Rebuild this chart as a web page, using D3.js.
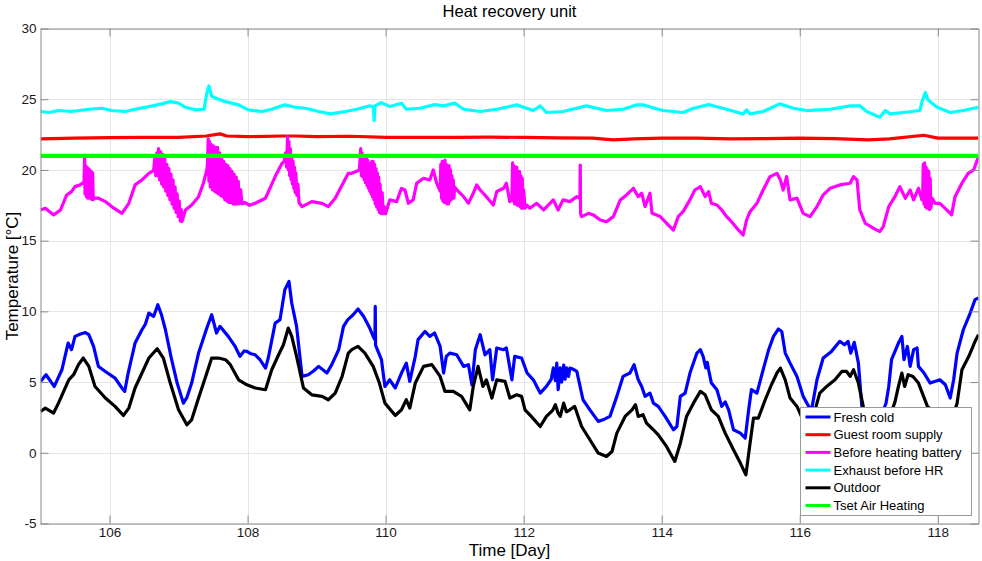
<!DOCTYPE html>
<html>
<head>
<meta charset="utf-8">
<script src="https://cdn.jsdelivr.net/npm/d3@7"></script>
<style>
  html, body { margin: 0; padding: 0; background: #fff; }
  svg { display: block; font-family: "Liberation Sans", Arial, sans-serif; }
</style>
</head>
<body>
<svg id="chart" width="982" height="561"></svg>
<script>
// Heat recovery unit temperatures, time in days, temperature in °C
const title = "Heat recovery unit";
const xLabel = "Time [Day]";
const yLabel = "Temperature [°C]";
const xTicks = [106, 108, 110, 112, 114, 116, 118];
const yTicks = [-5, 0, 5, 10, 15, 20, 25, 30];
const xDomain = [105, 118.59];
const yDomain = [-5, 30];

const seriesNames = ["Fresh cold", "Guest room supply", "Before heating battery",
                     "Exhaust before HR", "Outdoor", "Tset Air Heating"];
const seriesColors = ["#0000ff", "#ff0000", "#ff00ff", "#00ffff", "#000000", "#00ff00"];

const freshCold = [
  [105.00,5.05],[105.08,5.52],[105.20,4.69],[105.31,5.87],[105.40,7.76],[105.45,7.29],[105.50,8.23],
  [105.58,8.4],[105.65,8.5],[105.70,8.35],[105.77,7.5],[105.84,6.1],[105.94,5.75],[106.08,5.28],
  [106.18,4.58],[106.22,4.34],[106.27,5.64],[106.37,7.76],[106.47,8.7],[106.52,9.1],[106.57,9.88],
  [106.64,9.65],[106.70,10.47],[106.75,9.8],[106.81,8.7],[106.90,6.58],[106.98,4.93],[107.07,3.51],
  [107.12,3.9],[107.19,4.93],[107.29,7.05],[107.41,8.82],[107.48,9.76],[107.55,8.47],[107.60,8.94],
  [107.72,8.23],[107.82,7.52],[107.89,6.82],[107.95,7.2],[107.99,7.17],[108.05,7.0],[108.11,6.93],
  [108.18,6.58],[108.26,5.99],[108.30,6.7],[108.40,9.17],[108.47,9.41],[108.54,11.53],[108.60,12.12],
  [108.64,10.59],[108.71,8.94],[108.79,5.4],[108.88,5.52],[108.96,5.8],[109.03,6.11],[109.15,5.64],
  [109.22,6.23],[109.32,7.29],[109.39,8.94],[109.45,9.4],[109.53,9.76],[109.60,10.17],[109.68,9.65],
  [109.77,8.82],[109.82,8.23],[109.845,8.0],[109.85,10.35],[109.855,7.6],[109.94,6.58],[109.99,4.69],
  [110.06,5.16],[110.14,4.58],[110.23,5.64],[110.30,6.34],[110.35,5.05],[110.43,6.82],[110.47,8.0],
  [110.57,8.58],[110.64,8.23],[110.71,8.47],[110.79,7.52],[110.84,5.64],[110.88,6.82],[110.93,7.05],
  [111.03,6.93],[111.13,6.11],[111.20,6.23],[111.25,4.81],[111.30,7.29],[111.37,8.35],[111.44,6.93],
  [111.51,7.29],[111.55,5.16],[111.61,7.41],[111.71,7.29],[111.75,7.41],[111.83,5.16],[111.87,6.82],
  [111.97,6.7],[112.05,5.64],[112.14,5.16],[112.24,4.22],[112.33,4.69],[112.40,5.2],[112.43,6.0],
  [112.46,5.1],[112.48,6.34],[112.50,4.46],[112.53,6.0],[112.55,5.0],[112.58,6.2],[112.60,5.2],
  [112.62,6.0],[112.65,5.4],[112.67,5.99],[112.72,5.9],[112.77,5.75],[112.86,3.75],[112.96,3.04],
  [113.08,2.22],[113.15,2.33],[113.25,2.57],[113.35,3.99],[113.44,5.4],[113.54,5.64],[113.60,6.23],
  [113.66,5.16],[113.71,4.69],[113.76,3.99],[113.83,4.22],[113.88,3.51],[113.95,3.28],[114.05,2.57],
  [114.17,1.63],[114.22,1.86],[114.27,3.99],[114.34,4.22],[114.41,5.64],[114.51,7.05],[114.56,7.29],
  [114.60,6.82],[114.64,6.0],[114.66,6.4],[114.68,5.87],[114.72,4.93],[114.80,4.46],[114.87,3.28],
  [114.92,3.6],[114.97,3.04],[115.04,1.63],[115.14,1.39],[115.21,1.04],[115.26,3.04],[115.30,4.46],
  [115.38,4.22],[115.47,5.87],[115.55,7.29],[115.62,8.23],[115.69,8.75],[115.74,8.58],[115.79,7.05],
  [115.86,6.34],[115.96,5.4],[116.05,3.99],[116.13,3.28],[116.17,3.0],[116.25,5.16],[116.34,6.7],
  [116.46,7.17],[116.58,7.88],[116.65,7.64],[116.70,7.88],[116.74,7.05],[116.79,7.81],[116.85,6.34],
  [116.90,3.28],[116.98,2.0],[117.05,1.7],[117.15,2.2],[117.25,3.5],[117.29,4.69],[117.33,6.58],
  [117.43,7.76],[117.48,8.23],[117.51,6.58],[117.56,7.52],[117.60,6.11],[117.65,7.29],[117.70,7.41],
  [117.72,6.11],[117.80,5.64],[117.89,4.93],[118.03,5.16],[118.11,4.81],[118.18,3.87],[118.23,5.16],
  [118.28,7.05],[118.37,8.7],[118.47,9.88],[118.54,10.83],[118.59,10.94]
];

const guestRoomSupply = [
  [105.0,22.2],[105.5,22.25],[106.0,22.28],[106.5,22.3],[107.0,22.3],[107.4,22.4],[107.6,22.55],
  [107.7,22.4],[108.0,22.35],[108.5,22.4],[108.7,22.4],[109.0,22.35],[109.5,22.38],[110.0,22.3],
  [110.5,22.3],[111.0,22.3],[111.5,22.32],[112.0,22.3],[112.5,22.27],[113.0,22.25],[113.3,22.12],
  [113.6,22.2],[114.0,22.25],[114.5,22.25],[115.0,22.2],[115.5,22.22],[116.0,22.25],[116.5,22.22],
  [117.0,22.12],[117.3,22.2],[117.8,22.45],[118.0,22.25],[118.59,22.25]
];

const beforeHeatingBattery = [
  [105.00,17.17],[105.07,17.29],[105.19,16.82],[105.29,17.17],[105.38,18.23],[105.45,18.47],
  [105.50,18.82],[105.57,18.94],[105.61,19.06],
  [105.63,19.1],[105.64,20.9],[105.645,18.3],[105.655,20.3],[105.665,18.1],[105.675,20.2],
  [105.685,18.0],[105.695,20.1],[105.705,18.0],[105.715,20.0],[105.725,18.0],[105.735,19.9],
  [105.745,17.9],[105.755,19.8],[105.765,17.9],[105.78,18.0],
  [105.84,18.0],[105.94,17.76],[106.03,17.41],[106.18,16.93],[106.28,17.64],[106.37,18.94],
  [106.47,19.29],[106.57,19.76],[106.62,19.9],
  [106.64,20.0],[106.655,20.8],[106.67,19.6],[106.685,21.2],[106.70,19.6],[106.71,21.5],
  [106.725,19.3],[106.74,21.3],[106.755,19.0],[106.77,21.1],[106.785,18.8],[106.80,20.8],
  [106.815,18.5],[106.83,20.4],[106.845,18.2],[106.86,20.1],[106.875,17.9],[106.89,19.7],
  [106.905,17.6],[106.92,19.3],[106.935,17.3],[106.95,18.8],[106.965,17.0],[106.98,18.3],
  [106.995,16.7],[107.01,17.8],[107.025,16.4],[107.04,17.2],[107.05,16.35],
  [107.10,17.17],[107.19,17.52],[107.29,18.11],[107.36,19.06],[107.41,20.0],
  [107.42,20.5],[107.43,22.2],[107.44,19.2],[107.45,22.0],[107.46,18.8],[107.475,21.8],
  [107.49,18.6],[107.505,21.7],[107.52,18.5],[107.535,21.6],[107.55,18.4],[107.565,21.6],
  [107.58,18.3],[107.595,21.2],[107.61,18.2],[107.625,20.8],[107.64,18.1],[107.655,20.6],
  [107.67,17.9],[107.685,20.4],[107.70,17.8],[107.715,20.3],[107.73,17.7],[107.745,20.1],
  [107.76,17.7],[107.775,19.9],[107.79,17.6],[107.805,19.7],[107.82,17.6],[107.835,19.5],
  [107.85,17.6],[107.865,19.2],[107.88,17.6],[107.90,18.6],[107.92,17.6],
  [107.96,17.7],[108.03,17.5],[108.11,17.64],[108.26,18.0],[108.40,19.53],[108.50,20.47],
  [108.53,20.6],[108.55,21.2],[108.565,20.2],[108.58,22.36],[108.59,20.0],[108.60,22.0],
  [108.61,19.6],[108.62,21.5],[108.63,19.3],[108.64,21.0],[108.65,19.0],[108.66,20.6],
  [108.67,18.7],[108.68,20.2],[108.69,18.4],[108.70,19.8],[108.715,18.2],[108.73,19.0],
  [108.745,17.7],
  [108.79,17.4],[108.93,17.76],[109.08,17.64],[109.17,17.41],[109.27,18.0],[109.37,18.94],
  [109.46,19.76],[109.51,19.76],[109.58,19.9],
  [109.62,20.0],[109.64,21.5],[109.65,19.6],[109.66,21.2],[109.67,19.5],[109.68,20.9],
  [109.69,19.3],[109.70,20.8],[109.71,19.1],[109.72,20.9],[109.73,18.9],[109.74,20.7],
  [109.75,18.7],[109.76,20.5],[109.77,18.5],[109.78,20.4],[109.79,18.3],[109.80,20.6],
  [109.81,18.1],[109.82,20.6],[109.83,17.9],[109.84,20.4],[109.85,17.6],[109.86,20.1],
  [109.87,17.4],[109.88,19.8],[109.89,17.2],[109.90,19.5],[109.91,17.0],[109.92,19.0],
  [109.935,16.9],[109.95,18.4],[109.965,16.9],[109.98,17.4],[110.00,16.9],
  [110.06,17.88],[110.16,17.76],[110.23,18.7],[110.28,18.58],[110.33,17.64],[110.40,17.88],
  [110.45,19.06],[110.55,19.41],[110.64,19.29],[110.69,20.0],[110.74,19.06],
  [110.79,18.5],[110.80,20.4],[110.81,18.0],[110.82,20.6],[110.83,17.8],[110.84,20.5],
  [110.85,17.7],[110.86,20.7],[110.87,17.7],[110.88,20.4],[110.89,17.6],[110.90,20.2],
  [110.91,17.6],[110.92,20.3],[110.93,17.8],[110.94,20.0],[110.95,17.9],[110.96,19.6],
  [110.97,18.0],[110.98,19.3],[110.99,18.0],[111.00,18.8],[111.05,18.5],
  [111.13,18.11],[111.20,17.64],[111.27,18.35],[111.32,18.94],[111.37,18.58],[111.46,18.11],
  [111.56,17.52],[111.61,18.47],[111.71,18.7],[111.75,19.06],[111.80,17.76],
  [111.83,18.0],[111.84,20.5],[111.85,17.8],[111.86,20.3],[111.87,17.6],[111.88,20.2],
  [111.89,17.6],[111.90,20.2],[111.91,17.5],[111.92,19.9],[111.93,17.5],[111.94,19.9],
  [111.95,17.4],[111.96,19.6],[111.97,17.3],[111.98,19.4],[111.99,17.3],[112.00,18.6],
  [112.02,17.3],[112.05,17.5],
  [112.09,17.29],[112.19,17.64],[112.29,17.17],[112.43,17.88],[112.50,17.17],[112.57,17.88],
  [112.67,17.76],[112.77,18.11],[112.815,18.0],[112.82,20.35],[112.825,16.9],[112.84,16.7],
  [112.94,16.93],[113.01,16.82],[113.11,16.46],[113.20,16.34],[113.30,16.7],[113.40,17.88],
  [113.49,18.23],[113.59,18.7],[113.66,18.11],[113.71,18.35],[113.76,17.41],[113.83,18.35],
  [113.86,16.93],[113.98,16.7],[114.07,16.23],[114.17,15.75],[114.24,16.7],[114.31,17.05],
  [114.41,17.88],[114.48,18.58],[114.56,18.82],[114.63,18.11],[114.68,18.47],[114.72,17.64],
  [114.80,17.52],[114.87,17.17],[114.94,16.7],[114.99,16.46],[115.09,15.87],[115.18,15.4],
  [115.23,16.46],[115.28,17.05],[115.38,17.64],[115.47,18.58],[115.57,19.53],[115.67,19.76],
  [115.72,19.29],[115.76,18.58],[115.81,19.53],[115.86,17.88],[115.96,18.0],[116.05,16.93],
  [116.15,16.7],[116.25,17.41],[116.34,18.23],[116.44,18.7],[116.58,18.94],[116.73,19.06],
  [116.78,19.53],[116.83,19.29],[116.87,17.17],[116.95,16.23],[117.07,15.87],[117.16,15.64],
  [117.21,15.99],[117.29,17.41],[117.38,18.11],[117.45,18.82],[117.53,18.0],[117.60,18.58],
  [117.65,17.88],[117.72,18.7],[117.77,17.88],
  [117.78,18.0],[117.79,20.4],[117.80,17.6],[117.81,20.5],[117.82,17.4],[117.83,20.2],
  [117.84,17.3],[117.85,20.0],[117.86,17.3],[117.87,19.9],[117.88,17.2],[117.89,19.4],
  [117.90,17.3],[117.92,18.0],
  [117.96,17.64],[118.03,17.64],[118.13,17.17],[118.20,16.82],[118.25,18.11],[118.35,19.06],
  [118.44,19.76],[118.52,20.0],[118.59,20.94]
];

const exhaustBeforeHR = [
  [105.00,24.13],[105.12,24.06],[105.26,24.2],[105.45,24.13],[105.70,24.29],[105.89,24.36],
  [106.03,24.2],[106.23,24.13],[106.37,24.29],[106.57,24.48],[106.76,24.67],[106.88,24.83],
  [107.00,24.72],[107.10,24.43],[107.24,24.25],[107.37,24.29],[107.41,25.42],[107.44,25.94],
  [107.48,25.19],[107.58,25.0],[107.68,24.83],[107.87,24.6],[108.01,24.25],[108.21,24.13],
  [108.35,24.29],[108.54,24.6],[108.69,24.43],[108.84,24.36],[109.03,24.13],[109.20,23.96],
  [109.42,24.13],[109.58,24.29],[109.77,24.53],[109.82,24.48],[109.835,23.49],[109.845,24.53],
  [109.94,24.76],[110.06,24.48],[110.23,24.72],[110.30,24.29],[110.50,24.36],[110.71,24.62],
  [110.84,24.53],[111.00,24.72],[111.13,24.29],[111.37,24.13],[111.61,24.29],[111.90,24.6],
  [112.14,24.2],[112.24,24.53],[112.33,24.06],[112.57,24.13],[112.91,24.53],[113.20,24.2],
  [113.44,24.29],[113.64,24.6],[113.73,24.6],[113.95,24.29],[114.02,24.2],[114.31,24.06],
  [114.46,24.36],[114.68,24.62],[114.94,24.29],[115.18,23.96],[115.23,24.25],[115.28,23.96],
  [115.47,24.13],[115.71,24.67],[115.91,24.36],[116.10,24.2],[116.44,24.29],[116.73,24.53],
  [116.87,24.53],[116.97,24.13],[117.16,23.73],[117.24,24.2],[117.31,23.96],[117.50,24.06],
  [117.74,24.2],[117.78,24.95],[117.82,25.47],[117.86,24.95],[117.99,24.43],[118.18,24.06],
  [118.37,24.2],[118.59,24.43]
];

const outdoor = [
  [105.00,2.92],[105.07,3.16],[105.19,2.81],[105.26,3.51],[105.41,5.16],[105.48,5.52],[105.55,6.23],
  [105.62,6.7],[105.70,6.11],[105.79,4.69],[105.94,3.87],[106.08,3.28],[106.20,2.64],[106.28,3.16],
  [106.37,4.58],[106.47,5.64],[106.57,6.7],[106.69,7.36],[106.78,6.7],[106.88,4.93],[107.00,3.04],
  [107.12,1.98],[107.19,2.33],[107.29,3.87],[107.41,5.64],[107.48,6.7],[107.58,6.7],[107.68,6.58],
  [107.75,6.23],[107.87,5.16],[107.99,4.81],[108.11,4.58],[108.26,4.46],[108.35,5.87],[108.45,6.93],
  [108.52,7.64],[108.59,8.82],[108.64,8.23],[108.71,6.82],[108.81,4.58],[108.93,4.1],[109.08,3.99],
  [109.17,3.75],[109.27,4.22],[109.37,5.4],[109.46,7.05],[109.51,7.29],[109.60,7.52],[109.70,7.05],
  [109.82,6.11],[109.91,4.93],[109.99,3.51],[110.14,2.64],[110.23,3.04],[110.30,3.75],[110.35,3.16],
  [110.43,4.93],[110.55,6.11],[110.67,6.23],[110.79,5.4],[110.86,4.34],[110.98,4.34],[111.10,3.99],
  [111.22,3.04],[111.27,4.69],[111.34,6.11],[111.41,4.69],[111.46,5.16],[111.54,3.87],[111.61,5.16],
  [111.73,5.05],[111.80,3.87],[111.90,4.1],[111.97,3.99],[112.02,3.04],[112.11,2.57],[112.24,1.86],
  [112.33,2.57],[112.42,3.0],[112.46,3.4],[112.50,2.8],[112.53,2.57],[112.58,3.51],[112.62,2.9],
  [112.67,3.04],[112.74,3.28],[112.84,1.86],[112.96,0.92],[113.08,-0.02],[113.20,-0.26],
  [113.28,0.09],[113.35,1.39],[113.47,2.57],[113.57,3.04],[113.62,3.4],[113.66,2.57],[113.73,2.69],
  [113.78,2.1],[113.88,1.63],[113.95,1.27],[114.07,0.45],[114.19,-0.61],[114.27,0.68],[114.36,2.57],
  [114.46,3.51],[114.56,4.34],[114.63,4.1],[114.72,3.04],[114.82,2.57],[114.92,1.39],[115.04,0.21],
  [115.14,-0.73],[115.22,-1.56],[115.28,0.68],[115.33,2.45],[115.40,2.45],[115.50,3.75],
  [115.59,4.81],[115.67,5.64],[115.72,5.99],[115.79,5.16],[115.86,3.87],[115.96,3.28],[116.05,2.3],
  [116.15,2.2],[116.22,3.0],[116.29,4.22],[116.39,4.69],[116.51,5.16],[116.61,5.75],[116.68,5.75],
  [116.73,5.4],[116.78,5.87],[116.85,4.93],[116.92,3.28],[117.00,1.6],[117.10,0.6],[117.20,1.2],
  [117.30,2.5],[117.38,3.6],[117.43,4.69],[117.48,5.64],[117.52,4.69],[117.57,5.52],[117.64,5.4],
  [117.72,4.93],[117.85,3.28],[117.95,2.9],[118.05,2.6],[118.15,2.3],[118.22,2.6],[118.28,3.51],
  [118.35,5.87],[118.45,6.82],[118.54,7.88],[118.59,8.35]
];

const tsetAirHeating = [[105.0,21.0],[118.59,21.0]];

const seriesData = [freshCold, guestRoomSupply, beforeHeatingBattery,
                    exhaustBeforeHR, outdoor, tsetAirHeating];
const seriesWidths = [3.2, 3.2, 3.2, 3.2, 3.2, 4.2];

// ---- layout ----
const svg = d3.select("#chart");
const plot = { left: 40.5, right: 978.5, top: 28.5, bottom: 523.5 };

const x = d3.scaleLinear().domain(xDomain).range([plot.left, plot.right]);
const y = d3.scaleLinear().domain(yDomain).range([plot.bottom, plot.top]);

svg.append("defs").append("clipPath").attr("id", "plotClip")
  .append("rect")
  .attr("x", plot.left).attr("y", plot.top)
  .attr("width", plot.right - plot.left).attr("height", plot.bottom - plot.top);

// grid
const grid = svg.append("g").attr("class", "grid")
  .attr("stroke", "#e6e6e6").attr("stroke-width", 1);
grid.selectAll("line.gx").data(xTicks).join("line").attr("class", "gx")
  .attr("x1", d => Math.round(x(d)) + 0.5).attr("x2", d => Math.round(x(d)) + 0.5)
  .attr("y1", plot.top).attr("y2", plot.bottom);
grid.selectAll("line.gy").data(yTicks).join("line").attr("class", "gy")
  .attr("y1", d => Math.round(y(d)) + 0.5).attr("y2", d => Math.round(y(d)) + 0.5)
  .attr("x1", plot.left).attr("x2", plot.right);

// data lines
const line = d3.line().x(d => x(d[0])).y(d => y(d[1]));
const lines = svg.append("g").attr("clip-path", "url(#plotClip)");
seriesData.forEach((data, i) => {
  lines.append("path")
    .datum(data)
    .attr("d", line)
    .attr("fill", "none")
    .attr("stroke", seriesColors[i])
    .attr("stroke-width", seriesWidths[i])
    .attr("stroke-linejoin", "round")
    .attr("stroke-linecap", "butt");
});

// axes (box with inward ticks on all four sides)
const axisColor = "#8a8a8a";
const tickLen = 8;
const fmt = d3.format("d");
const axBottom = svg.append("g").attr("transform", `translate(0,${plot.bottom})`)
  .call(d3.axisBottom(x).tickValues(xTicks).tickFormat(fmt).tickSizeInner(-tickLen).tickSizeOuter(0).tickPadding(4));
const axTop = svg.append("g").attr("transform", `translate(0,${plot.top})`)
  .call(d3.axisTop(x).tickValues(xTicks).tickFormat("").tickSizeInner(-tickLen).tickSizeOuter(0));
const axLeft = svg.append("g").attr("transform", `translate(${plot.left},0)`)
  .call(d3.axisLeft(y).tickValues(yTicks).tickFormat(fmt).tickSizeInner(-tickLen).tickSizeOuter(0).tickPadding(4));
const axRight = svg.append("g").attr("transform", `translate(${plot.right},0)`)
  .call(d3.axisRight(y).tickValues(yTicks).tickFormat("").tickSizeInner(-tickLen).tickSizeOuter(0));

[axBottom, axTop, axLeft, axRight].forEach(a => {
  a.select(".domain").attr("stroke", axisColor);
  a.selectAll(".tick line").attr("stroke", axisColor);
  a.selectAll(".tick text").attr("fill", "#1a1a1a")
    .attr("font-family", "'Liberation Sans', Arial, sans-serif").attr("font-size", 13.5);
});
// plain hyphen for negative tick labels
axLeft.selectAll(".tick text").text(d => String(d));

// titles
svg.append("text").attr("x", (plot.left + plot.right) / 2).attr("y", 17)
  .attr("text-anchor", "middle").attr("font-size", 16.5).attr("fill", "#000").text(title);
svg.append("text").attr("x", (plot.left + plot.right) / 2).attr("y", 556)
  .attr("text-anchor", "middle").attr("font-size", 17).attr("fill", "#000").text(xLabel);
svg.append("text")
  .attr("transform", `translate(18,${(plot.top + plot.bottom) / 2}) rotate(-90)`)
  .attr("text-anchor", "middle").attr("font-size", 17).attr("fill", "#000").text(yLabel);

// legend
const legend = svg.append("g").attr("transform", "translate(800.5,407.5)");
legend.append("rect").attr("width", 171).attr("height", 108)
  .attr("fill", "#fff").attr("stroke", "#9a9a9a").attr("stroke-width", 1);
const rowH = 17.7;
seriesNames.forEach((name, i) => {
  const cy = 9.5 + i * rowH;
  legend.append("line").attr("x1", 5).attr("x2", 30).attr("y1", cy).attr("y2", cy)
    .attr("stroke", seriesColors[i]).attr("stroke-width", 3);
  legend.append("text").attr("x", 33).attr("y", cy).attr("dy", "0.35em")
    .attr("font-size", 13).attr("fill", "#000").text(name);
});
</script>
</body>
</html>
